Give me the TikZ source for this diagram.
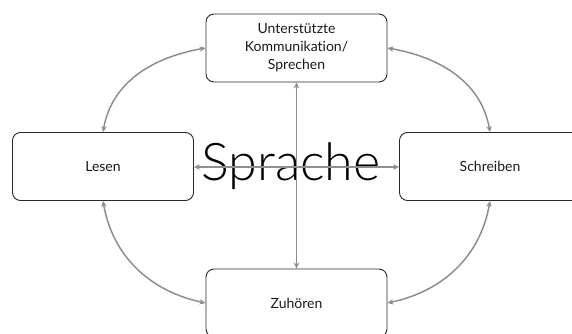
\documentclass[tikz,border=0pt]{standalone}
\usepackage{fontspec}
\setmainfont{Lato}[Ligatures={NoCommon}]
\newfontfamily\lightface{Lato Light}[Ligatures={NoCommon}]
\usetikzlibrary{arrows.meta}
\definecolor{linkgray}{HTML}{8E8E8E}
\definecolor{boxline}{HTML}{2A2A2A}
\definecolor{labeltext}{HTML}{1A1A1A}
\begin{document}
\begin{tikzpicture}[x=1pt,y=1pt,
  areabox/.style={draw=boxline, line width=0.9pt, rounded corners=8pt, fill=white,
    minimum width=181pt, minimum height=68pt, inner sep=0pt, align=center,
    text=labeltext, font=\fontsize{14}{18}\selectfont},
  conn/.style={draw=linkgray, line width=1.5pt,
    {Stealth[length=6pt,width=5.5pt]}-{Stealth[length=6pt,width=5.5pt]}}
]
\useasboundingbox (0,0) rectangle (572,-334);

% the four language skills
\node[areabox] (top)    at (296.5,-48)  {Unterstützte\\Kommunikation/\\Sprechen};
\node[areabox] (left)   at (103,-166.5) {Lesen};
\node[areabox] (right)  at (490,-166.5) {Schreiben};
\node[areabox] (bottom) at (296.5,-303) {Zuhören};

% central label
\node[font=\lightface\fontsize{52}{52}\selectfont, text=black, inner sep=0pt, anchor=base] (core) at (291,-180) {Sprache};

% cross connections through the centre
\draw[conn] (top.south) -- (bottom.north);
\draw[conn] (left.east |- 0,-167) -- (right.west |- 0,-167);

% links around the ring
\draw[conn] (top.west) to[out=190, in=80] (left.north);
\draw[conn] (top.east) to[out=-10, in=100] (right.north);
\draw[conn] (left.south) to[out=-80, in=168] (bottom.west);
\draw[conn] (right.south) to[out=-100, in=12] (bottom.east);
\end{tikzpicture}
\end{document}
